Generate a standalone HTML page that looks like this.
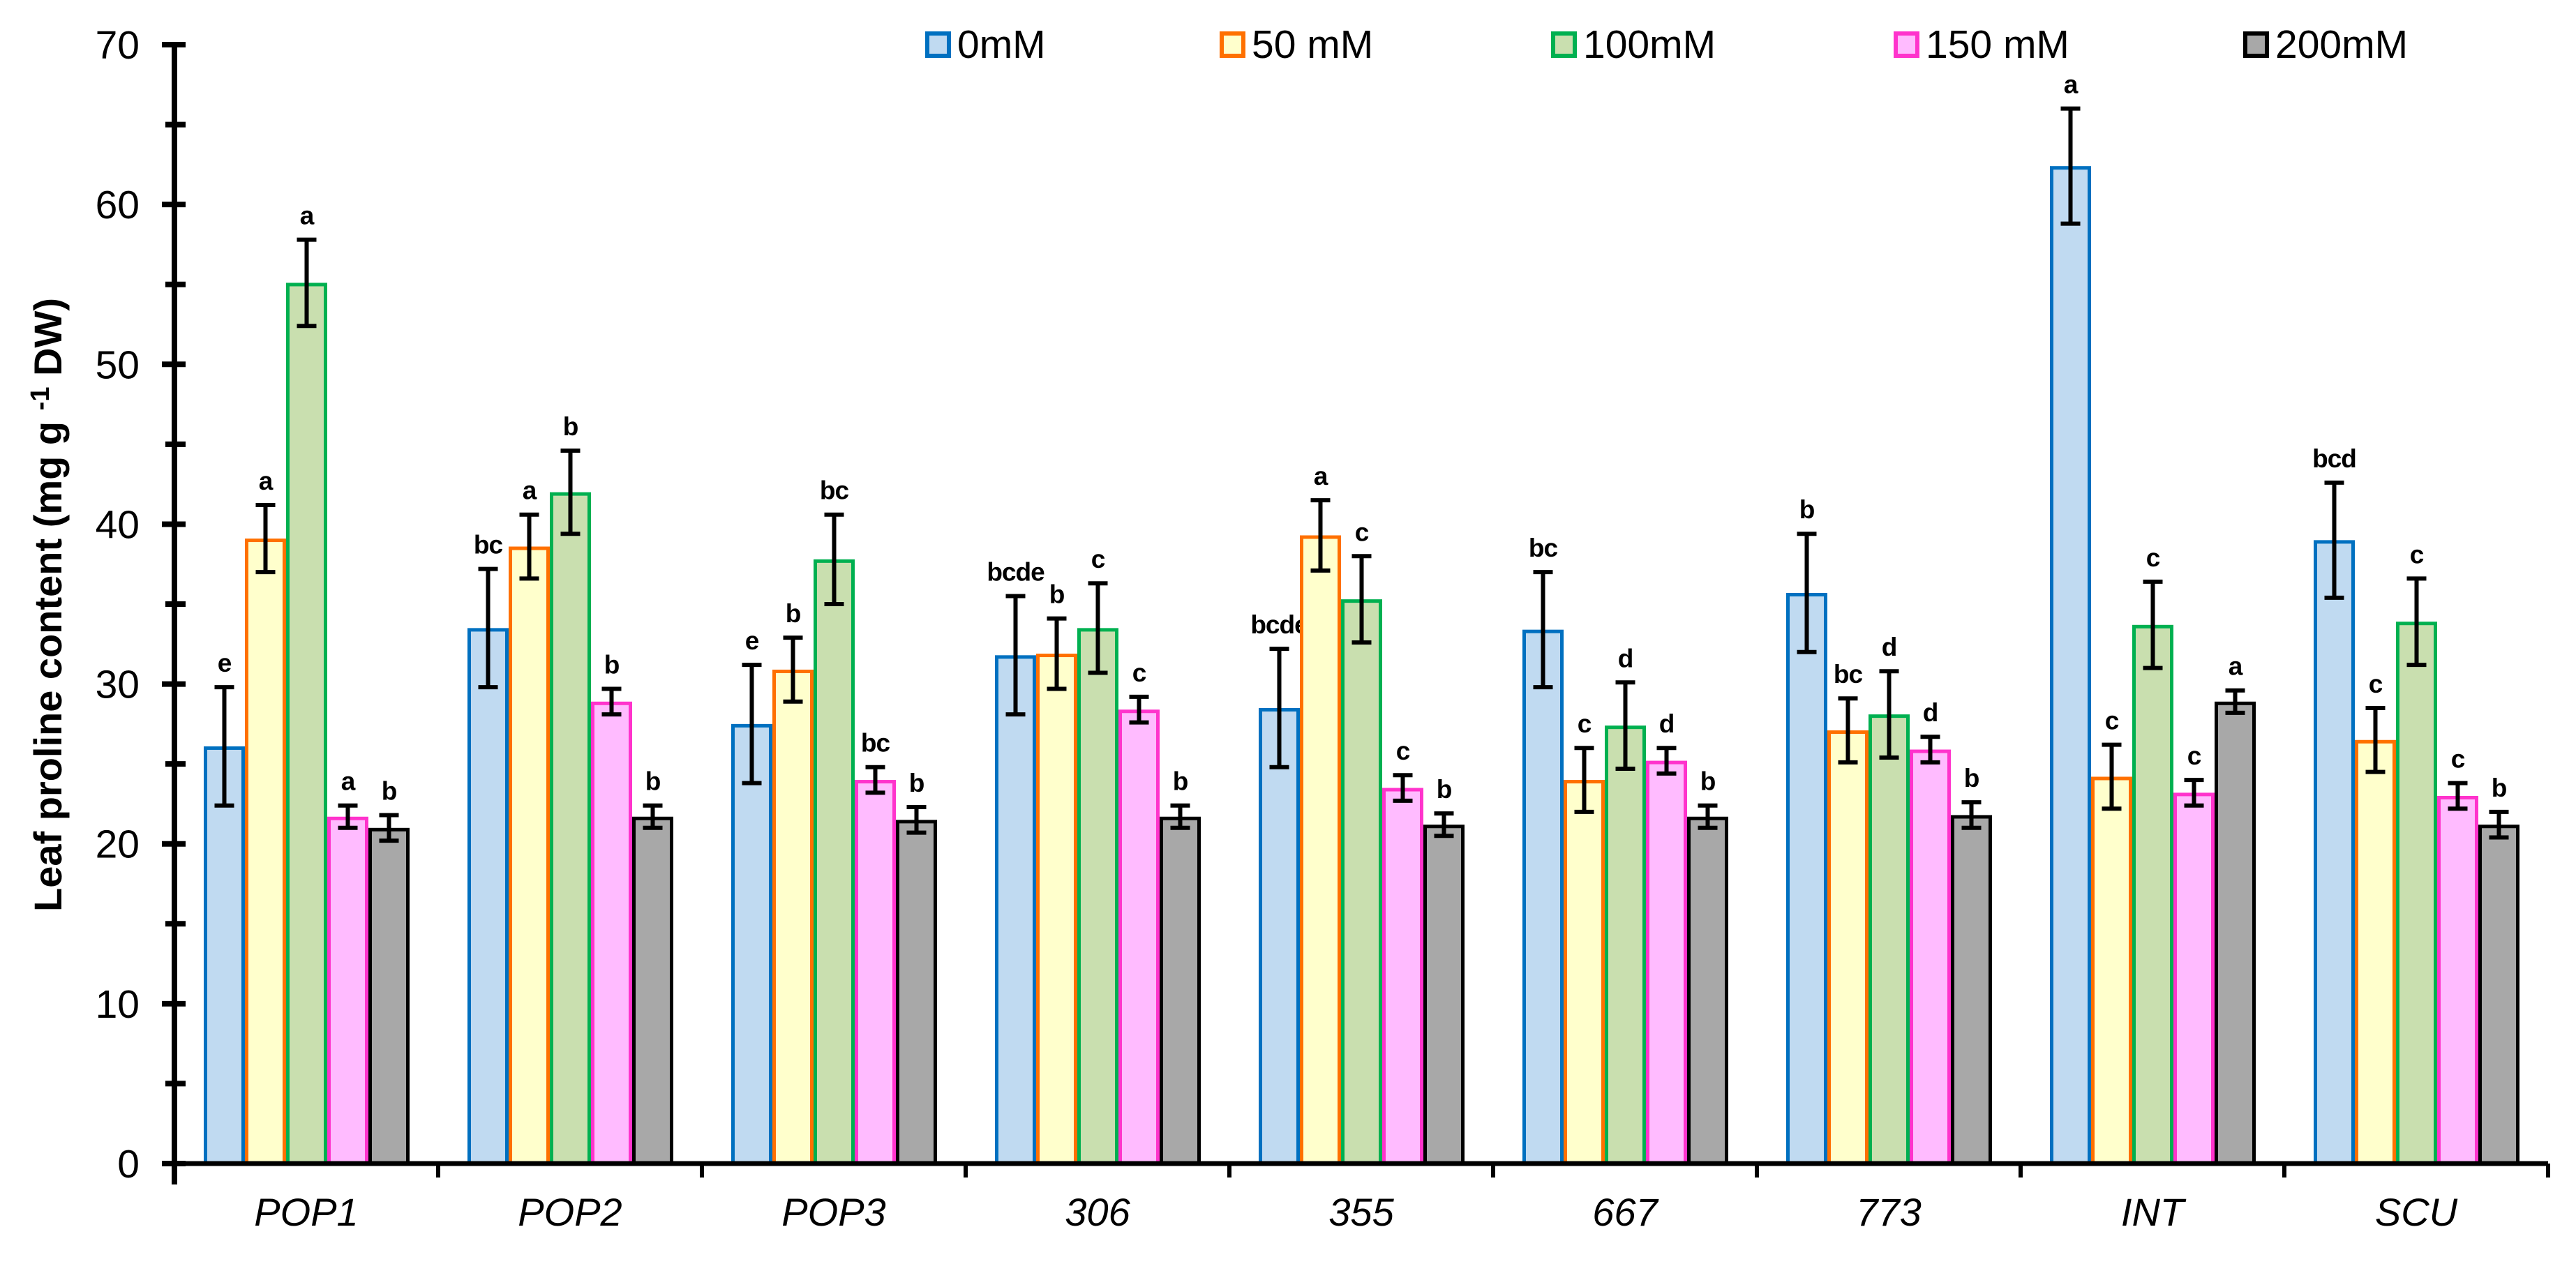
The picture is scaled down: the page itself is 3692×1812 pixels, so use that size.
<!DOCTYPE html>
<html><head><meta charset="utf-8"><style>
html,body{margin:0;padding:0;background:#fff;}
svg{display:block;}
text{font-family:"Liberation Sans",Arial,sans-serif;}
</style></head><body>
<svg id="chart" width="3692" height="1812" viewBox="0 0 3692 1812" xmlns="http://www.w3.org/2000/svg">
<g id="bars"></g>
<g id="axes"></g>
<g id="legend"></g>
<text transform="translate(88,867) rotate(-90)" text-anchor="middle" font-size="56" font-weight="bold">Leaf proline content (mg g <tspan dy="-18" font-size="38">-1</tspan><tspan dy="18"> DW)</tspan></text>
</svg>
<script>
const categories = ["POP1","POP2","POP3","306","355","667","773","INT","SCU"];
const seriesNames = ["0mM","50 mM","100mM","150 mM","200mM"];
const s0 = [26.1,33.5,27.5,31.8,28.5,33.4,35.7,62.4,39.0];
const s50 = [39.1,38.6,30.9,31.9,39.3,24.0,27.1,24.2,26.5];
const s100 = [55.1,42.0,37.8,33.5,35.3,27.4,28.1,33.7,33.9];
const s150 = [21.7,28.9,24.0,28.4,23.5,25.2,25.9,23.2,23.0];
const s200 = [21.0,21.7,21.5,21.7,21.2,21.7,21.8,28.9,21.2];
const e0 = [3.7,3.7,3.7,3.7,3.7,3.6,3.7,3.6,3.6];
const e50 = [2.1,2.0,2.0,2.2,2.2,2.0,2.0,2.0,2.0];
const e100 = [2.7,2.6,2.8,2.8,2.7,2.7,2.7,2.7,2.7];
const e150 = [0.7,0.8,0.8,0.8,0.8,0.8,0.8,0.8,0.8];
const e200 = [0.8,0.7,0.8,0.7,0.7,0.7,0.8,0.7,0.8];
const l0 = ["e","bc","e","bcde","bcde","bc","b","a","bcd"];
const l50 = ["a","a","b","b","a","c","bc","c","c"];
const l100 = ["a","b","bc","c","c","d","d","c","c"];
const l150 = ["a","b","bc","c","c","d","d","c","c"];
const l200 = ["b","b","b","b","b","b","b","a","b"];
const yTicks = [0,10,20,30,40,50,60,70];

const series=[s0,s50,s100,s150,s200], errs=[e0,e50,e100,e150,e200], lets=[l0,l50,l100,l150,l200];
const strokes=["#0070C0","#FF7000","#00B050","#FF33CC","#000000"];
const fills=["#C0DAF1","#FFFFCC","#C9DFAF","#FFBBFF","#A8A8A8"];
const NS="http://www.w3.org/2000/svg";
const X0=250, CW=378, Y0=1668, PX=22.914;
const y=v=>Y0-v*PX;
function mk(tag,attrs,parent){const e=document.createElementNS(NS,tag);for(const k in attrs)e.setAttribute(k,attrs[k]);parent.appendChild(e);return e;}
const gb=document.getElementById('bars'), ga=document.getElementById('axes'), gl=document.getElementById('legend');
categories.forEach((c,ci)=>{
  series.forEach((s,si)=>{
    const v=s[ci], x=X0+ci*CW+42+si*59, w=59, top=y(v);
    const r=mk('rect',{x:x+2.5,y:top+2.5,width:w-5,height:Y0-top-2.5,fill:fills[si],stroke:strokes[si],'stroke-width':5},gb);
    
    
    const cx=x+w/2, et=y(v+errs[si][ci]), eb=y(v-errs[si][ci]);
    const eg=mk('g',{stroke:'#000','stroke-width':6},gb);
    
    
    mk('line',{x1:cx,y1:et,x2:cx,y2:eb},eg);
    mk('line',{x1:cx-14,y1:et,x2:cx+14,y2:et},eg);
    mk('line',{x1:cx-14,y1:eb,x2:cx+14,y2:eb},eg);
    const t=mk('text',{x:cx,y:et-22,'text-anchor':'middle','font-size':37,'font-weight':'bold','letter-spacing':-1},gb);
    t.textContent=lets[si][ci];
    
    
  });
  const lab=mk('text',{x:X0+ci*CW+CW/2,y:1757,'text-anchor':'middle','font-size':56,'font-style':'italic'},ga);
  lab.textContent=c;
  
  
});
const yl=mk('line',{x1:X0,y1:y(70)-4,x2:X0,y2:Y0+30,stroke:'#000','stroke-width':8},ga);


const xl=mk('line',{x1:X0-18,y1:Y0,x2:X0+9*CW,y2:Y0,stroke:'#000','stroke-width':7},ga);


for(let i=1;i<=9;i++){mk('line',{x1:X0+i*CW,y1:Y0,x2:X0+i*CW,y2:Y0+20,stroke:'#000','stroke-width':6},ga);}
yTicks.forEach(v=>{
  mk('line',{x1:X0-18,y1:y(v),x2:X0+16,y2:y(v),stroke:'#000','stroke-width':8},ga);
  if(v<70) mk('line',{x1:X0-13,y1:y(v+5),x2:X0+16,y2:y(v+5),stroke:'#000','stroke-width':8},ga);
  const t=mk('text',{x:200,y:y(v)+20,'text-anchor':'end','font-size':57},ga);
  t.textContent=v;
  
  
});
const lx=[1326,1748,2223,2714,3215];
seriesNames.forEach((n,i)=>{
  const g=mk('g',{},gl);
  
  
  mk('rect',{x:lx[i]+3,y:48,width:31,height:32,fill:fills[i],stroke:strokes[i],'stroke-width':6},g);
  const t=mk('text',{x:lx[i]+46,y:83,'font-size':57},g);
  t.textContent=n;
});
</script>
</body></html>
